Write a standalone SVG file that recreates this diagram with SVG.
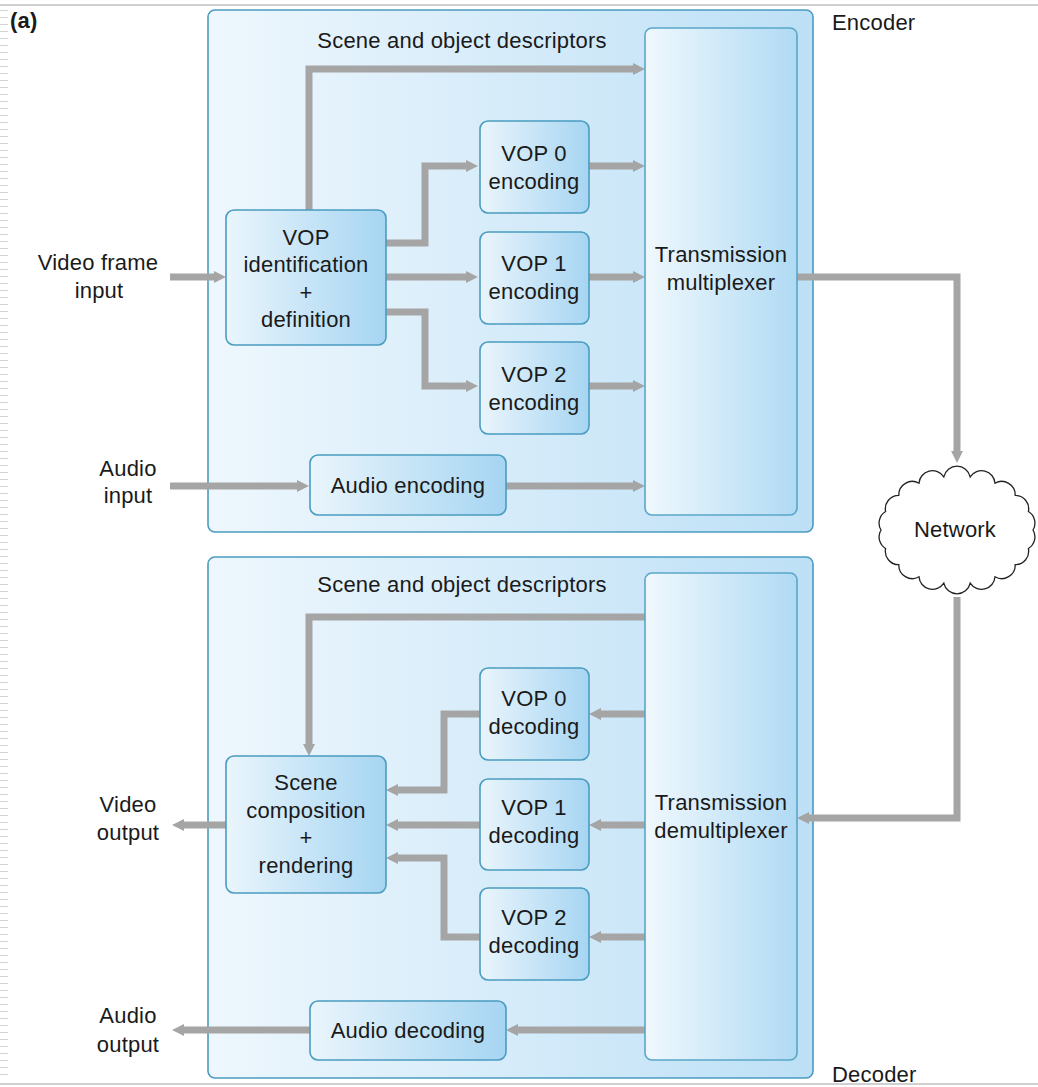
<svg xmlns="http://www.w3.org/2000/svg" width="1038" height="1087" viewBox="0 0 1038 1087">
  <style>
    .lbl { font-family: "Liberation Sans", "DejaVu Sans", sans-serif; font-size: 22px; letter-spacing: 0.2px; fill: #1a1a1a; text-anchor: middle; }
    .side { font-family: "Liberation Sans", "DejaVu Sans", sans-serif; font-size: 22px; letter-spacing: 0.2px; fill: #1a1a1a; }
    .panel { fill: url(#panelGrad); stroke: #4a9cc0; stroke-width: 1.6; }
    .box { fill: url(#boxGrad); stroke: #4a9cc0; stroke-width: 1.6; }
    .tall { fill: url(#tallGrad); stroke: #5aa6c8; stroke-width: 1.6; }
    .wire { fill: none; stroke: #a5a5a5; stroke-width: 7; marker-end: url(#ah); }
  </style>
  <defs>
    <linearGradient id="panelGrad" x1="0" y1="0" x2="1" y2="0">
      <stop offset="0" stop-color="#eef7fd"/>
      <stop offset="1" stop-color="#bde0f6"/>
    </linearGradient>
    <linearGradient id="boxGrad" x1="0" y1="0" x2="1" y2="0">
      <stop offset="0" stop-color="#eaf5fc"/>
      <stop offset="1" stop-color="#a6d5f2"/>
    </linearGradient>
    <linearGradient id="tallGrad" x1="0" y1="0" x2="1" y2="0">
      <stop offset="0" stop-color="#f0f8fd"/>
      <stop offset="1" stop-color="#b0daf4"/>
    </linearGradient>
    <marker id="ah" viewBox="0 0 12 12" markerWidth="12" markerHeight="12" refX="1" refY="6" orient="auto" markerUnits="userSpaceOnUse">
      <path d="M0,0 L12,6 L0,12 z" fill="#a5a5a5"/>
    </marker>
    <pattern id="margin" x="0" y="0" width="10" height="7" patternUnits="userSpaceOnUse">
      <rect x="0" y="3" width="8" height="1" fill="#d4d4d4"/>
    </pattern>
  </defs>

  <!-- page background and slide edge -->
  <rect x="0" y="0" width="1038" height="1087" fill="#ffffff"/>
  <rect x="0" y="10" width="9" height="1070" fill="url(#margin)"/>
  <rect x="0" y="4" width="1038" height="2" fill="#d0d0d0"/>
  <rect x="0" y="1083" width="1038" height="2" fill="#d0d0d0"/>

  <text x="10" y="28" class="side" style="font-weight:bold">(a)</text>

  <!-- encoder panel -->
  <g id="encoder">
    <rect class="panel" x="208" y="10" width="605" height="522" rx="7"/>
    <text x="832" y="30" class="side">Encoder</text>
    <text x="462" y="48" class="lbl">Scene and object descriptors</text>
  </g>

  <!-- decoder panel -->
  <g id="decoder">
    <rect class="panel" x="208" y="557" width="605" height="521" rx="7"/>
    <text x="832" y="1082" class="side">Decoder</text>
    <text x="462" y="592" class="lbl">Scene and object descriptors</text>
  </g>

  <!-- connectors -->
  <g id="connectors">
    <path class="wire" d="M309,210 V69 H634"/>
    <path class="wire" d="M386,243 H425 V166 H467"/>
    <path class="wire" d="M386,277 H467"/>
    <path class="wire" d="M386,312 H425 V386 H467"/>
    <path class="wire" d="M589,166 H634"/>
    <path class="wire" d="M589,277 H634"/>
    <path class="wire" d="M589,386 H634"/>
    <path class="wire" d="M170,486 H298"/>
    <path class="wire" d="M506,486 H634"/>
    <path class="wire" d="M170,277 H215"/>
    <path class="wire" d="M797,277 H957 V452"/>
    <path class="wire" d="M957,597 V818 H808"/>
    <path class="wire" d="M645,617 H309 V745"/>
    <path class="wire" d="M645,714 H600"/>
    <path class="wire" d="M480,714 H444 V790 H397"/>
    <path class="wire" d="M645,825 H600"/>
    <path class="wire" d="M480,825 H397"/>
    <path class="wire" d="M645,937 H600"/>
    <path class="wire" d="M480,937 H444 V858 H397"/>
    <path class="wire" d="M226,825 H183"/>
    <path class="wire" d="M645,1030 H517"/>
    <path class="wire" d="M310,1030 H183"/>
  </g>

  <!-- encoder blocks -->
  <g id="mux">
    <rect class="tall" x="645" y="28" width="152" height="487" rx="7"/>
    <text x="721" y="262" class="lbl">Transmission</text>
    <text x="721" y="290" class="lbl">multiplexer</text>
  </g>
  <g id="vop-ident">
    <rect class="box" x="226" y="210" width="160" height="135" rx="8"/>
    <text x="306" y="245" class="lbl">VOP</text>
    <text x="306" y="272" class="lbl">identification</text>
    <text x="306" y="300" class="lbl">+</text>
    <text x="306" y="327" class="lbl">definition</text>
  </g>
  <g id="vop0-enc">
    <rect class="box" x="480" y="121" width="109" height="92" rx="8"/>
    <text x="534" y="161" class="lbl">VOP 0</text>
    <text x="534" y="189" class="lbl">encoding</text>
  </g>
  <g id="vop1-enc">
    <rect class="box" x="480" y="232" width="109" height="92" rx="8"/>
    <text x="534" y="271" class="lbl">VOP 1</text>
    <text x="534" y="299" class="lbl">encoding</text>
  </g>
  <g id="vop2-enc">
    <rect class="box" x="480" y="342" width="109" height="92" rx="8"/>
    <text x="534" y="382" class="lbl">VOP 2</text>
    <text x="534" y="410" class="lbl">encoding</text>
  </g>
  <g id="audio-enc">
    <rect class="box" x="310" y="455" width="196" height="60" rx="8"/>
    <text x="408" y="493" class="lbl">Audio encoding</text>
  </g>
  <g id="video-in">
    <text x="98" y="270" class="lbl">Video frame</text>
    <text x="99" y="298" class="lbl">input</text>
  </g>
  <g id="audio-in">
    <text x="128" y="476" class="lbl">Audio</text>
    <text x="128" y="503" class="lbl">input</text>
  </g>

  <!-- network cloud -->
  <g id="network">
    <path fill="#ffffff" stroke="#222222" stroke-width="1.3" d="M1033,530
      A13.5,13.5 0 0 1 1028.4,548.5
      A13.5,13.5 0 0 1 1015.2,564.7
      A13.5,13.5 0 0 1 995,576.8
      A13.5,13.5 0 0 1 970.2,583.2
      A13.5,13.5 0 0 1 943.8,583.2
      A13.5,13.5 0 0 1 919,576.8
      A13.5,13.5 0 0 1 898.8,564.7
      A13.5,13.5 0 0 1 885.6,548.5
      A13.5,13.5 0 0 1 881,530
      A13.5,13.5 0 0 1 885.6,511.5
      A13.5,13.5 0 0 1 898.8,495.3
      A13.5,13.5 0 0 1 919,483.2
      A13.5,13.5 0 0 1 943.8,476.8
      A13.5,13.5 0 0 1 970.2,476.8
      A13.5,13.5 0 0 1 995,483.2
      A13.5,13.5 0 0 1 1015.2,495.3
      A13.5,13.5 0 0 1 1028.4,511.5
      A13.5,13.5 0 0 1 1033,530 z"/>
    <text x="955" y="537" class="lbl">Network</text>
  </g>

  <!-- decoder blocks -->
  <g id="demux">
    <rect class="tall" x="645" y="573" width="152" height="487" rx="7"/>
    <text x="721" y="810" class="lbl">Transmission</text>
    <text x="721" y="838" class="lbl">demultiplexer</text>
  </g>
  <g id="scene-comp">
    <rect class="box" x="226" y="756" width="160" height="137" rx="8"/>
    <text x="306" y="790" class="lbl">Scene</text>
    <text x="306" y="818" class="lbl">composition</text>
    <text x="306" y="845" class="lbl">+</text>
    <text x="306" y="873" class="lbl">rendering</text>
  </g>
  <g id="vop0-dec">
    <rect class="box" x="480" y="668" width="109" height="92" rx="8"/>
    <text x="534" y="706" class="lbl">VOP 0</text>
    <text x="534" y="734" class="lbl">decoding</text>
  </g>
  <g id="vop1-dec">
    <rect class="box" x="480" y="779" width="109" height="91" rx="8"/>
    <text x="534" y="815" class="lbl">VOP 1</text>
    <text x="534" y="843" class="lbl">decoding</text>
  </g>
  <g id="vop2-dec">
    <rect class="box" x="480" y="888" width="109" height="92" rx="8"/>
    <text x="534" y="925" class="lbl">VOP 2</text>
    <text x="534" y="953" class="lbl">decoding</text>
  </g>
  <g id="audio-dec">
    <rect class="box" x="310" y="1001" width="196" height="59" rx="8"/>
    <text x="408" y="1038" class="lbl">Audio decoding</text>
  </g>
  <g id="video-out">
    <text x="128" y="812" class="lbl">Video</text>
    <text x="128" y="840" class="lbl">output</text>
  </g>
  <g id="audio-out">
    <text x="128" y="1023" class="lbl">Audio</text>
    <text x="128" y="1052" class="lbl">output</text>
  </g>
</svg>
